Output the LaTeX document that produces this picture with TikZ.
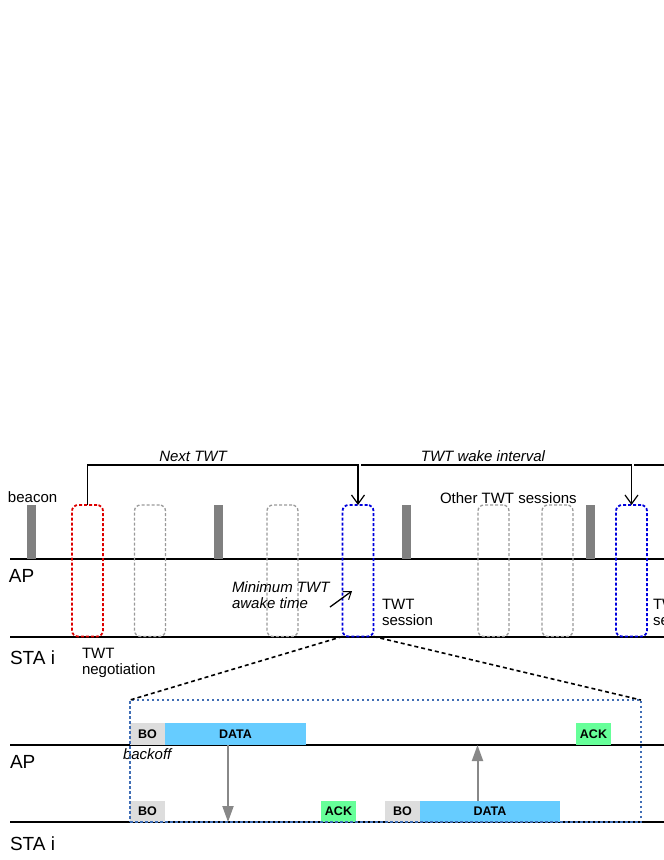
\documentclass[tikz,border=0pt]{standalone}
\usepackage{fontspec}
\setmainfont{Liberation Sans}
\usetikzlibrary{arrows.meta}
\definecolor{beacongray}{HTML}{808080}
\definecolor{redbox}{HTML}{DD0000}
\definecolor{bluebox}{HTML}{0000DD}
\definecolor{graybox}{HTML}{999999}
\definecolor{zoomblue}{HTML}{3F6DB5}
\definecolor{bofill}{HTML}{DDDDDD}
\definecolor{datafill}{HTML}{66CCFF}
\definecolor{ackfill}{HTML}{66FF99}
\definecolor{arrowgray}{HTML}{888888}
\begin{document}
\begin{tikzpicture}[x=1pt,y=-1pt,
  timeline/.style={line width=1.8pt, draw=black},
  beaconbar/.style={fill=beacongray, draw=none, minimum width=9pt, minimum height=54pt, inner sep=0pt, outer sep=0pt},
  sessbox/.style={minimum width=31pt, minimum height=131.5pt, inner sep=0pt, outer sep=0pt, rounded corners=6pt, line width=1.8pt, dash pattern=on 3pt off 2pt},
  redsess/.style={sessbox, draw=redbox},
  bluesess/.style={sessbox, draw=bluebox},
  graysess/.style={sessbox, draw=graybox, line width=1.3pt},
  bracket/.style={line width=1.5pt, draw=black},
  bracketarrow/.style={bracket, -{Straight Barb[length=9pt,width=13pt,line width=1.2pt]}},
  txt/.style={font=\fontsize{15}{16}\selectfont, inner sep=0pt, outer sep=0pt},
  itxt/.style={font=\fontsize{15}{16}\selectfont\itshape, inner sep=0pt, outer sep=0pt},
  lanetxt/.style={font=\fontsize{19}{21}\selectfont, inner sep=0pt, outer sep=0pt},
  frame/.style={font=\fontsize{12.5}{14}\selectfont\bfseries, inner sep=0pt, outer sep=0pt, minimum height=22pt, draw=none},
  bo/.style={frame, fill=bofill, minimum width=35pt},
  datab/.style={frame, fill=datafill},
  ack/.style={frame, fill=ackfill, minimum width=35pt},
  zoomline/.style={line width=1.6pt, draw=black, dash pattern=on 4pt off 3pt},
  zoombox/.style={draw=zoomblue, line width=1.3pt, dash pattern=on 2.5pt off 2.5pt, inner sep=0pt, outer sep=0pt, minimum width=511pt, minimum height=122pt},
  garrow/.style={line width=2pt, draw=arrowgray, -{Triangle[length=16pt,width=11pt]}},
  minarrow/.style={line width=1.3pt, draw=black, -{Straight Barb[length=7pt,width=10pt,line width=1pt]}}
]
\useasboundingbox (0,0) rectangle (664,860);
\clip (0,0) rectangle (664,860);

% timelines
\coordinate (apL) at (10,559);  \coordinate (apR) at (680,559);
\coordinate (staL) at (10,637); \coordinate (staR) at (680,637);
\coordinate (ap2L) at (10,745); \coordinate (ap2R) at (680,745);
\coordinate (sta2L) at (10,822); \coordinate (sta2R) at (680,822);
\draw[timeline] (apL) -- (apR);
\draw[timeline] (staL) -- (staR);
\draw[timeline] (ap2L) -- (ap2R);
\draw[timeline] (sta2L) -- (sta2R);

% lane labels
\node[lanetxt, anchor=base west] (apLbl) at (9,582) {AP};
\node[lanetxt, anchor=base west] (staLbl) at (10,664) {STA i};
\node[lanetxt, anchor=base west] (ap2Lbl) at (10,768) {AP};
\node[lanetxt, anchor=base west] (sta2Lbl) at (10,850) {STA i};

% beacons
\node[beaconbar] (bc1) at (31.5,532) {};
\node[beaconbar] (bc2) at (218.5,532) {};
\node[beaconbar] (bc3) at (406.5,532) {};
\node[beaconbar] (bc4) at (590.5,532) {};
\node[txt, anchor=base west] (beaconLbl) at (8,502) {beacon};

% sessions
\node[redsess] (neg) at (87.5,570.75) {};
\node[graysess] (o1) at (150,570.75) {};
\node[graysess] (o2) at (282.5,570.75) {};
\node[bluesess] (s1) at (358,570.75) {};
\node[graysess] (o3) at (493.5,570.75) {};
\node[graysess] (o4) at (557.5,570.75) {};
\node[bluesess] (s2) at (631.5,570.75) {};

% brackets
\coordinate (ntMid) at (200,465);
\coordinate (wiStart) at (361,465);
\coordinate (nxStart) at (634,465);
\coordinate (nxEnd) at (690,465);
\draw[bracketarrow] (neg.north) |- (ntMid) -| (s1.north);
\draw[bracketarrow] (wiStart) -| (s2.north);
\draw[bracket] (nxStart) -- (nxEnd);
\node[itxt, anchor=base] (ntLbl) at (193,461) {Next TWT};
\node[itxt, anchor=base] (wiLbl) at (483,461) {TWT wake interval};
\node[txt, anchor=base west] (otherLbl) at (440,503) {Other TWT sessions};

% texts
\node[txt, anchor=north west, align=left] (negLbl) at (82,648.2) {TWT\\negotiation};
\node[itxt, anchor=north west, align=left] (minLbl) at (232,581.2) {Minimum TWT\\awake time};
\node[txt, anchor=north west, align=left] (sesLbl) at (382,599.2) {TWT\\session};
\node[txt, anchor=north west, align=left] (ses2Lbl) at (653,599.2) {TWT\\session};
\coordinate (minA) at (330,607);
\coordinate (minB) at (352,591);
\draw[minarrow] (minA) -- (minB);

% zoomed session
\node[bo] (boAP) at (147.5,734) {BO};
\node[datab, minimum width=141pt] (dataAP) at (235.5,734) {DATA};
\node[ack] (ackAP) at (593.5,734) {ACK};
\node[bo, minimum height=21pt] (boSTA) at (147.5,811.5) {BO};
\node[ack, minimum height=21pt] (ackSTA) at (338.5,811.5) {ACK};
\node[bo, minimum height=21pt] (bo2STA) at (402.5,811.5) {BO};
\node[datab, minimum width=140pt, minimum height=21pt] (dataSTA) at (490,811.5) {DATA};
\node[itxt, anchor=base west] (boLbl) at (123,759) {backoff};

\coordinate (dnA) at (228,745);
\coordinate (dnB) at (228,822);
\coordinate (upA) at (477.5,801);
\coordinate (upB) at (477.5,745);
\draw[garrow] (dnA) -- (dnB);
\draw[garrow] (upA) -- (upB);

\node[zoombox] (zoom) at (385.5,761) {};
\draw[zoomline] (s1.south west) -- (zoom.north west);
\draw[zoomline] (s1.south east) -- (zoom.north east);
\end{tikzpicture}
\end{document}
